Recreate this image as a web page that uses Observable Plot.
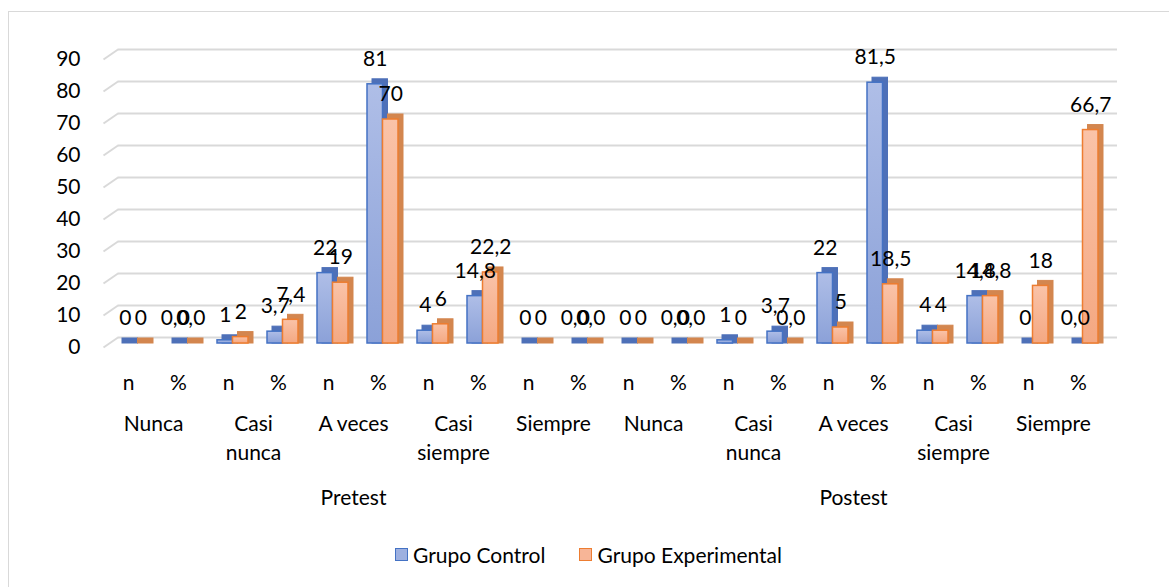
<!DOCTYPE html>
<html>
<head>
<meta charset="utf-8">
<script src="https://cdn.jsdelivr.net/npm/d3@7"></script>
<script src="https://cdn.jsdelivr.net/npm/@observablehq/plot@0.6"></script>
<style>
  body { margin: 0; background: #fff; font-family: Lato, "Open Sans", sans-serif; }
  #wrap { position: relative; width: 1169px; height: 587px; overflow: hidden; background: #fff; }
  #frame { position: absolute; left: 8px; top: 11px; width: 1300px; height: 700px; border: 1.5px solid #d9d9d9; pointer-events: none; }
  #chart { position: absolute; left: 0; top: 0; }
  #legend { position: absolute; left: 4px; top: 542px; width: 1169px; display: flex; justify-content: center; gap: 34px; font-size: 21px; color: #000; }
  .item { display: flex; align-items: center; gap: 5px; }
  .sw { width: 11px; height: 11px; border: 1.5px solid; }
</style>
</head>
<body>
<div id="wrap">
  <div id="chart"></div>
  <div id="legend"></div>
  <div id="frame"></div>
</div>
<script>
// ---- data ----
const phases = ["Pretest", "Postest"];
const levels = ["Nunca", "Casi\nnunca", "A veces", "Casi\nsiempre", "Siempre"];
const stats = ["n", "%"];
const seriesNames = ["Grupo Control", "Grupo Experimental"];
const controlValues = [0, 0, 1, 3.7, 22, 81, 4, 14.8, 0, 0,
                       0, 0, 1, 3.7, 22, 81.5, 4, 14.8, 0, 0];
const experimentalValues = [0, 0, 2, 7.4, 19, 70, 6, 22.2, 0, 0,
                            0, 0, 0, 0, 5, 18.5, 4, 14.8, 18, 66.7];
const yTicks = [0, 10, 20, 30, 40, 50, 60, 70, 80, 90];

// ---- derived tables ----
const cats = [];
phases.forEach((p, pi) => levels.forEach((l, li) => stats.forEach((s, si) => {
  cats.push({ i: cats.length, phase: p, level: l, stat: s });
})));
const fmt = (v, stat) => stat === "n" ? String(v)
  : (Number.isInteger(v) && v !== 0 ? String(v) : v.toFixed(1).replace(".", ","));
const rows = [];
cats.forEach(c => {
  rows.push({ ...c, series: 0, value: controlValues[c.i] });
  rows.push({ ...c, series: 1, value: experimentalValues[c.i] });
});
rows.forEach(r => r.label = fmt(r.value, r.stat));
const levelRows = [];
phases.forEach((p, pi) => levels.forEach((l, li) => levelRows.push({ pos: pi * 10 + li * 2 + 1, text: l })));
const phaseRows = phases.map((p, pi) => ({ pos: pi * 10 + 5, text: p }));

// ---- styling ----
const FS = 21;
const front = ["url(#gBlue)", "url(#gOrange)"];
const edge = ["#4472c4", "#ed7d31"];
const side = ["#4e70b8", "#d3864f"];
const barX1 = r => r.i + (r.series === 0 ? 0.28 : 0.59);
const barX2 = r => r.i + (r.series === 0 ? 0.59 : 0.90);
const pxPerUnit = (347 - 59) / 90;
const depthX = 0.29, depthPx = 10;

const marks = [
  Plot.link(yTicks, { x1: 0, x2: depthX, y1: d => d, y2: d => d + depthPx / pxPerUnit, stroke: "#d9d9d9", strokeWidth: 2 }),
  Plot.ruleY(yTicks, { x1: depthX, x2: 20.28, dy: -depthPx, stroke: "#d9d9d9", strokeWidth: 2 })
];
[0, 1].forEach(s => {
  const data = rows.filter(r => r.series === s);
  marks.push(Plot.rectY(data, { x1: barX1, x2: barX2, y1: 0, y2: "value", dx: 5, dy: -9, insetBottom: -5,
    fill: side[s], stroke: side[s], strokeWidth: 1 }));
  marks.push(Plot.rectY(data, { x1: barX1, x2: barX2, y1: 0, y2: "value", dy: -4,
    fill: front[s], stroke: edge[s], strokeWidth: 1.5 }));
});
marks.push(Plot.text(rows, { x: r => (barX1(r) + barX2(r)) / 2, y: "value", text: "label", dy: -29, fontSize: FS, fill: "#000" }));
marks.push(Plot.text(cats, { x: d => d.i + 0.5, y: d => 0, text: "stat", dy: 36, fontSize: FS, fill: "#000" }));
marks.push(Plot.text(levelRows, { x: "pos", y: d => 0, text: "text", dy: 63, lineAnchor: "top", lineHeight: 1.38, fontSize: FS, fill: "#000" }));
marks.push(Plot.text(phaseRows, { x: "pos", y: d => 0, text: "text", dy: 151, fontSize: FS, fill: "#000" }));

const svg = Plot.plot({
  width: 1169,
  height: 530,
  marginLeft: 103,
  marginRight: 66,
  marginTop: 59,
  marginBottom: 183,
  style: { fontSize: FS + "px", fontFamily: "Lato, 'Open Sans', sans-serif", color: "#000", background: "transparent" },
  x: { type: "linear", domain: [0, 20], axis: null },
  y: { domain: [0, 90], ticks: yTicks, tickSize: 0, tickPadding: 23, label: null },
  marks
});
const ns = "http://www.w3.org/2000/svg";
const defs = document.createElementNS(ns, "defs");
[["gBlue", "#afbee7", "#8ba1d8"], ["gOrange", "#fac3a8", "#f4a882"]].forEach(([id, c1, c2]) => {
  const g = document.createElementNS(ns, "linearGradient");
  g.setAttribute("id", id); g.setAttribute("x1", "0"); g.setAttribute("y1", "0"); g.setAttribute("x2", "0"); g.setAttribute("y2", "1");
  [[0, c1], [1, c2]].forEach(([o, c]) => {
    const st = document.createElementNS(ns, "stop");
    st.setAttribute("offset", o); st.setAttribute("stop-color", c);
    g.appendChild(st);
  });
  defs.appendChild(g);
});
svg.insertBefore(defs, svg.firstChild);
document.getElementById("chart").appendChild(svg);

const legend = document.getElementById("legend");
seriesNames.forEach((name, s) => {
  const it = document.createElement("div"); it.className = "item";
  const sw = document.createElement("div"); sw.className = "sw";
  sw.style.background = s === 0 ? "#9db0e0" : "#f7b597";
  sw.style.borderColor = edge[s];
  const tx = document.createElement("span"); tx.textContent = name;
  it.appendChild(sw); it.appendChild(tx); legend.appendChild(it);
});
</script>
</body>
</html>
